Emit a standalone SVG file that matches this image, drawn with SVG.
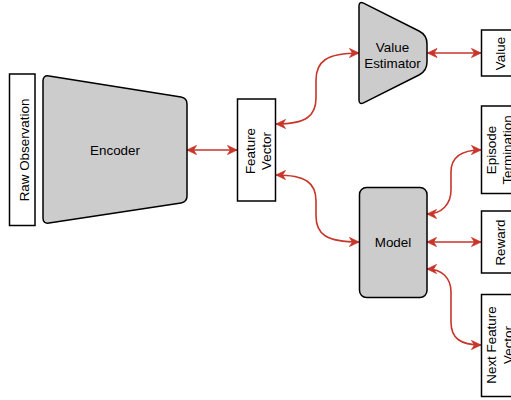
<svg xmlns="http://www.w3.org/2000/svg" width="511" height="400" viewBox="0 0 511 400">
<style>
.box{fill:#fff;stroke:#000;stroke-width:1.5}
.gray{fill:#ccc;stroke:#000;stroke-width:1.5}
.t{font-family:"Liberation Sans",Arial,sans-serif;font-size:13.4px;fill:#000;text-anchor:middle}
.c{fill:none;stroke:#c8352b;stroke-width:1.6;marker-start:url(#ah);marker-end:url(#ah)}
</style>
<defs>
<marker id="ah" markerUnits="userSpaceOnUse" viewBox="-10 -6 12 12" markerWidth="12" markerHeight="12" refX="0" refY="0" orient="auto-start-reverse">
<path d="M0,0 L-9.5,-4.5 L-6.5,0 L-9.5,4.5 Z" fill="#c8352b" stroke="#c8352b" stroke-width="0.8" stroke-linejoin="miter"/>
</marker>
</defs>
<g id="connectors">
<path class="c" d="M187,150 L237,150"/>
<path class="c" d="M276,124 C306,124 316,116 316,98 L316,80 C316,62 326,53 359,53"/>
<path class="c" d="M427.5,53 L481,53"/>
<path class="c" d="M276,175 C306,175 316,183 316,201 L316,216 C316,234 326,242 359,242"/>
<path class="c" d="M427,214 C442,214 451,204 451,190 L451,172 C451,158 460,150 481,150"/>
<path class="c" d="M427,242 L481,242"/>
<path class="c" d="M427,269 C442,269 451,278 451,292 L451,322 C451,338 460,345 481,345"/>
</g>
<g id="raw-observation">
<rect class="box" x="9.5" y="74" width="25.5" height="151.5"/>
<text class="t" x="28.5" y="150" transform="rotate(-90 28.5 150)">Raw Observation</text>
</g>
<g id="encoder">
<path class="gray" d="M43,81 Q43,75 49,76 L181,97 Q187,98 187,104 L187,196 Q187,202 181,203 L49,223 Q43,224 43,218 Z"/>
<text class="t" x="115" y="155">Encoder</text>
</g>
<g id="feature-vector">
<rect class="box" x="237.5" y="99" width="38" height="102"/>
<text class="t" x="255" y="151" transform="rotate(-90 255 151)">Feature</text>
<text class="t" x="271" y="151" transform="rotate(-90 271 151)">Vector</text>
</g>
<g id="value-estimator">
<path class="gray" d="M359,6 Q359,1 363.5,3.2 L419,31 Q427,35 427,44 L427,62 Q427,71 419,75 L363.5,102.8 Q359,105 359,100 Z"/>
<text class="t" x="392.5" y="51.7">Value</text>
<text class="t" x="392.5" y="68">Estimator</text>
</g>
<g id="value">
<rect class="box" x="481.5" y="30" width="38" height="46"/>
<text class="t" x="505" y="53.5" transform="rotate(-90 505 53.5)">Value</text>
</g>
<g id="model">
<rect class="gray" x="359.5" y="187.5" width="67.5" height="110" rx="7" ry="7"/>
<text class="t" x="393" y="247">Model</text>
</g>
<g id="episode-termination">
<rect class="box" x="481.5" y="106" width="38" height="87.5"/>
<text class="t" x="495.5" y="150" transform="rotate(-90 495.5 150)">Episode</text>
<text class="t" x="512" y="150" transform="rotate(-90 512 150)">Termination</text>
</g>
<g id="reward">
<rect class="box" x="481.5" y="211" width="38" height="62"/>
<text class="t" x="504.5" y="242.5" transform="rotate(-90 504.5 242.5)">Reward</text>
</g>
<g id="next-feature-vector">
<rect class="box" x="481.5" y="294.5" width="38" height="102"/>
<text class="t" x="496" y="345" transform="rotate(-90 496 345)">Next Feature</text>
<text class="t" x="512.5" y="345" transform="rotate(-90 512.5 345)">Vector</text>
</g>
</svg>
